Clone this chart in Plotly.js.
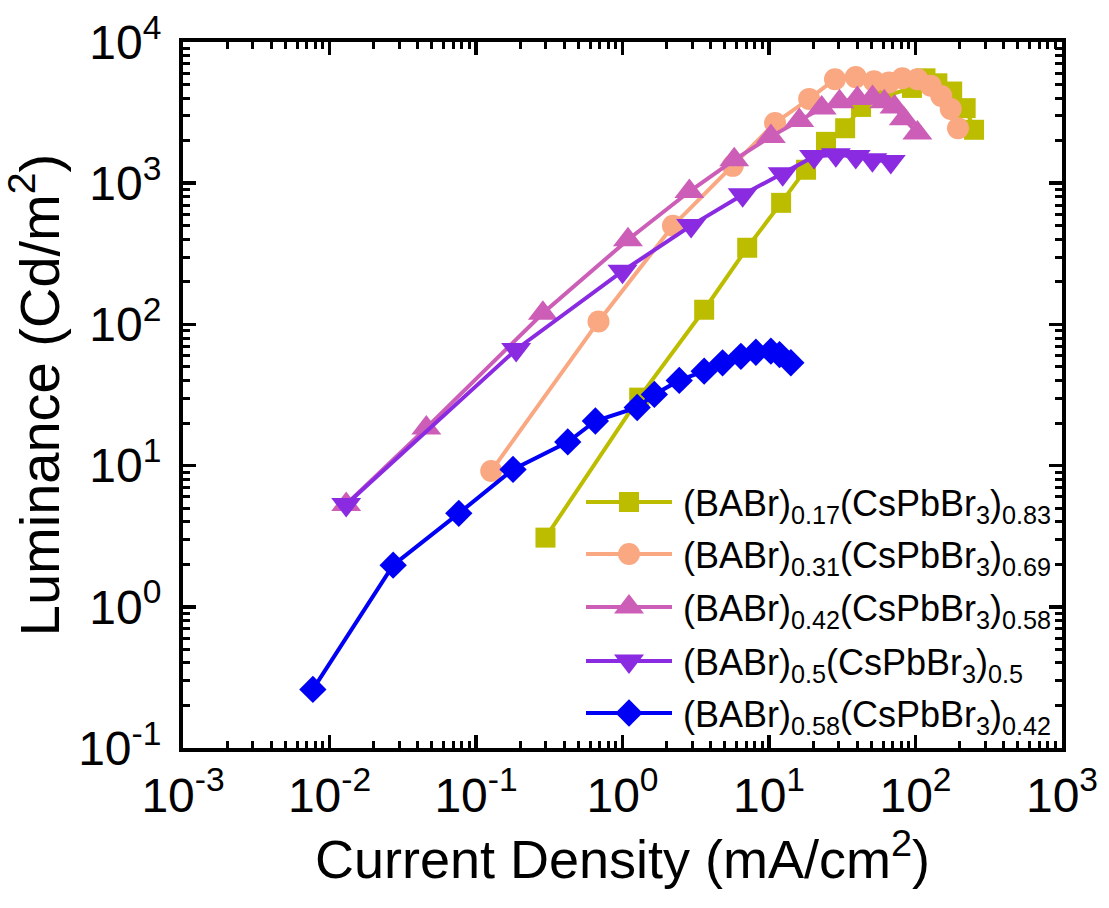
<!DOCTYPE html>
<html>
<head>
<meta charset="utf-8">
<script src="https://cdn.plot.ly/plotly-3.0.1.min.js"></script>
<style>html,body{margin:0;padding:0;background:#fff;}#chart{width:1109px;height:908px;}</style>
</head>
<body>
<div id="chart"></div>
<script>
// ---- data ----
const seriesNames = [
  '(BABr)<sub>0.17</sub>(CsPbBr<sub>3</sub>)<sub>0.83</sub>',
  '(BABr)<sub>0.31</sub>(CsPbBr<sub>3</sub>)<sub>0.69</sub>',
  '(BABr)<sub>0.42</sub>(CsPbBr<sub>3</sub>)<sub>0.58</sub>',
  '(BABr)<sub>0.5</sub>(CsPbBr<sub>3</sub>)<sub>0.5</sub>',
  '(BABr)<sub>0.58</sub>(CsPbBr<sub>3</sub>)<sub>0.42</sub>'
];
const J17 = [0.298, 1.30, 3.61, 7.10, 12.1, 17.9, 24.5, 33.1, 42.5, 62.9, 94.6, 117, 141, 178, 220, 251];
const L17 = [3.09, 30.3, 127, 349, 726, 1245, 1963, 2450, 3470, 4150, 4730, 5530, 5100, 4460, 3400, 2390];
const J31 = [0.127, 0.686, 2.21, 5.66, 11.0, 18.8, 28.2, 39.1, 52.1, 65.9, 81.3, 103, 127, 150, 174, 195];
const L31 = [9.15, 105, 500, 1327, 2673, 3955, 5450, 5640, 5270, 5170, 5530, 5450, 4900, 4150, 3350, 2450];
const J42 = [0.0130, 0.0458, 0.286, 1.09, 2.86, 5.79, 10.3, 16.1, 22.9, 30.3, 40.1, 50.9, 61.2, 71.9, 83.2, 103];
const L42 = [5.3, 18.5, 120, 398, 873, 1463, 2138, 2780, 3410, 3770, 3980, 4040, 3780, 3470, 2860, 2270];
const J50 = [0.0130, 0.188, 1.00, 2.94, 6.61, 12.4, 20.3, 28.6, 39.1, 50.8, 67.8];
const L50 = [5.3, 66.4, 238, 501, 828, 1166, 1545, 1590, 1545, 1463, 1423];
const J58 = [0.0077, 0.0272, 0.0763, 0.179, 0.423, 0.653, 1.26, 1.65, 2.44, 3.61, 4.82, 6.43, 8.14, 10.3, 11.8, 14.1];
const L58 = [0.26, 1.97, 4.59, 9.4, 14.7, 20.7, 25.8, 31.9, 40.1, 46.6, 53.4, 59.4, 63.5, 64.6, 61.1, 53.5];

const xExps = [-3, -2, -1, 0, 1, 2, 3];
const yExps = [-1, 0, 1, 2, 3, 4];

// ---- styles ----
const colors = ['#BDBD00', '#F9A882', '#CC5EB7', '#8A2BE2', '#0000F5'];
const symbols = ['square', 'circle', 'triangle-up', 'triangle-down', 'diamond'];
const sizes = [20, 22, 26, 26, 21];
const xs = [J17, J31, J42, J50, J58];
const ys = [L17, L31, L42, L50, L58];

const FONT = 'Liberation Sans, Arial, Helvetica, sans-serif';

const traces = xs.map((x, i) => ({
  type: 'scatter', mode: 'lines+markers',
  x: x, y: ys[i], name: seriesNames[i],
  line: {color: colors[i], width: 4},
  marker: {symbol: symbols[i], size: sizes[i], color: colors[i], line: {width: 0}},
  showlegend: false, hoverinfo: 'x+y'
}));

// ---- custom legend (drawn on a pixel-ranged overlay axis) ----
const legRowY = [502, 554, 607, 661, 713];
const legX0 = 586, legX1 = 672, legXm = 629, legTextX = 681;
const annotations = [];
legRowY.forEach((ry, i) => {
  traces.push({
    type: 'scatter', mode: 'lines', xaxis: 'x2', yaxis: 'y2',
    x: [legX0, legX1], y: [ry, ry],
    line: {color: colors[i], width: 4}, showlegend: false, hoverinfo: 'skip'
  });
  traces.push({
    type: 'scatter', mode: 'markers', xaxis: 'x2', yaxis: 'y2',
    x: [legXm], y: [ry],
    marker: {symbol: symbols[i], size: sizes[i], color: colors[i], line: {width: 0}},
    showlegend: false, hoverinfo: 'skip'
  });
  annotations.push({
    xref: 'x2', yref: 'y2', x: legTextX, y: ry + 4, xanchor: 'left', yanchor: 'middle',
    text: seriesNames[i], showarrow: false,
    font: {family: FONT, size: 36, color: 'black'}
  });
});

// minor tick positions (2..9 per decade)
function minorVals(lo, hi) {
  const v = [];
  for (let e = lo; e < hi; e++) for (let d = 2; d <= 9; d++) v.push(d * Math.pow(10, e));
  return v;
}

const axisCommon = {
  type: 'log', ticks: 'inside', ticklen: 13, tickwidth: 3.5, tickcolor: 'black',
  showline: true, linewidth: 4, linecolor: 'black', mirror: 'ticks',
  showgrid: false, zeroline: false, automargin: false,
  tickfont: {family: FONT, size: 48, color: 'black'}
};

const layout = {
  width: 1109, height: 908,
  margin: {l: 183, r: 47, t: 42, b: 160, pad: 0},
  paper_bgcolor: 'white', plot_bgcolor: 'white',
  showlegend: false,
  font: {family: FONT, color: 'black'},
  xaxis: Object.assign({}, axisCommon, {
    range: [-3, 3],
    tickmode: 'array',
    tickvals: xExps.map(e => Math.pow(10, e)),
    ticktext: xExps.map(e => '10<sup>' + e + '</sup>'),
    minor: {tickmode: 'array', tickvals: minorVals(-3, 3), ticks: 'inside', ticklen: 7, tickwidth: 3, tickcolor: 'black', showgrid: false},
    ticklabelstandoff: 2,
    title: {text: 'Current Density (mA/cm<sup>2</sup>)', font: {family: FONT, size: 54, color: 'black'}, standoff: 12}
  }),
  yaxis: Object.assign({}, axisCommon, {
    range: [-1, 4],
    tickmode: 'array',
    tickvals: yExps.map(e => Math.pow(10, e)),
    ticktext: yExps.map(e => '10<sup>' + e + '</sup>'),
    minor: {tickmode: 'array', tickvals: minorVals(-1, 4), ticks: 'inside', ticklen: 7, tickwidth: 3, tickcolor: 'black', showgrid: false},
    ticklabelstandoff: 8,
    title: {text: 'Luminance (Cd/m<sup>2</sup>)', font: {family: FONT, size: 56, color: 'black'}, standoff: 9}
  }),
  xaxis2: {overlaying: 'x', range: [183, 1062], visible: false, fixedrange: true},
  yaxis2: {overlaying: 'y', range: [748, 42], visible: false, fixedrange: true},
  annotations: annotations
};

Plotly.newPlot('chart', traces, layout, {displayModeBar: false, staticPlot: true});
</script>
</body>
</html>
